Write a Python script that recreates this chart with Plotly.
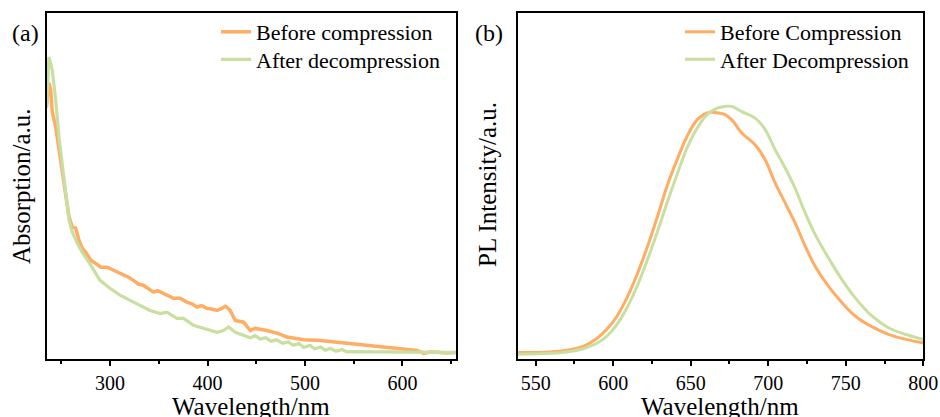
import plotly.graph_objects as go

# ---------------- Panel (a): absorption ----------------
abs_before_nm = [235, 237.3, 239.1, 240.7, 244.2, 247.6, 251.0, 254.5, 257.9, 261.3, 264.7, 268.1,
                 271.5, 275.0, 280.2, 285.3, 290.4, 296.9, 304.1, 309, 314.4, 319, 324.0, 329, 334.2,
                 339, 344.5, 349, 354.8, 360, 365.1, 371.9, 378.8, 384, 389.1, 394, 399.4, 404,
                 409.7, 414, 418.2, 421, 423.3, 428.5, 437.0, 443.9, 449.0, 461.0, 473.0, 481.6,
                 498.7, 515.8, 533.0, 550.0, 567.2, 584.4, 601.4, 615.2, 622.0, 628, 635.8, 645, 652.8, 655]
abs_before = [73.3, 79.7, 77.7, 71.3, 67.0, 60.3, 53.6, 46.7, 40.9, 38.0, 37.7, 34.2,
              31.9, 30.7, 28.4, 27.5, 26.4, 26.4, 25.5, 24.8, 24.1, 23.5, 22.6, 21.5, 21.2,
              20.4, 19.2, 19.6, 18.8, 17.9, 17.4, 17.4, 16.3, 15.8, 14.9, 15.3, 14.5, 14.3,
              13.9, 14.4, 15.1, 14.6, 13.9, 11.0, 10.5, 8.1, 8.7, 8.1, 7.2, 6.2,
              5.4, 5.2, 4.7, 4.3, 3.8, 3.3, 2.8, 2.3, 1.5, 1.9, 1.8, 1.6, 1.7, 1.7]

abs_after_nm = [235, 237.3, 240.7, 244.2, 247.6, 251.0, 254.5, 257.9, 261.3, 266.4, 271.5, 278.4,
                283.6, 289.7, 300.0, 310.3, 320.6, 330.8, 341.1, 351.4, 358.3, 368.6, 375.3,
                385.6, 395.9, 409.7, 416.4, 421.6, 428.5, 437.0, 440, 444, 449, 454, 460, 465,
                471, 477, 483, 488, 494, 499, 505, 510, 516, 521, 526, 532, 538, 543, 550, 570,
                600, 620, 640, 655]
abs_after = [72.5, 87.2, 83.5, 74.8, 64.1, 55.4, 47.8, 40.0, 36.5, 33.3, 30.7, 27.8,
             25.5, 22.6, 20.3, 18.3, 16.8, 15.4, 13.9, 13.0, 13.4, 11.6, 11.6,
             9.6, 8.7, 7.6, 8.1, 9.1, 7.6, 6.7, 6.6, 6.0, 6.6, 5.6, 6.0, 5.0,
             5.4, 4.4, 4.8, 3.8, 4.3, 3.2, 3.8, 2.8, 3.3, 2.4, 2.9, 2.1, 2.6, 1.9, 2.0, 2.0,
             1.9, 1.9, 1.8, 1.7]

# ---------------- Panel (b): PL ----------------
pl_before_nm = [538.4, 559.4, 570.2, 581.0, 589.5, 596.0, 602.5, 608.9, 615.4, 621.8, 628.3, 634.7,
                641.2, 647.6, 654.1, 660.5, 667.0, 672.1, 676.5, 682.9, 691.5, 698.0, 704.4,
                710.9, 717.3, 723.8, 730.2, 738.8, 747.4, 756.0, 766.8, 777.5, 788.3, 800]
pl_before = [1.7, 1.9, 2.4, 3.6, 5.8, 8.5, 12.3, 17.6, 24.3, 32.0, 40.7, 49.8,
             57.5, 64.2, 69.0, 71.0, 71.1, 70.5, 69.0, 65.2, 61.8, 57.5, 50.8,
             45.0, 39.2, 32.5, 26.7, 20.9, 16.2, 12.3, 9.2, 7.0, 5.6, 4.5]

pl_after_nm = [538.4, 559.4, 570.2, 581.0, 589.5, 596.0, 602.5, 608.9, 615.4, 621.8, 628.3, 634.7,
               641.2, 647.6, 654.1, 660.5, 667.0, 672.1, 676.5, 682.9, 691.5, 698.0, 704.4,
               710.9, 717.3, 723.8, 730.2, 738.8, 747.4, 756.0, 766.8, 777.5, 788.3, 800]
pl_after = [1.2, 1.5, 1.9, 2.9, 4.4, 6.5, 9.9, 14.7, 20.9, 28.2, 36.4, 45.0,
            53.2, 60.9, 66.6, 70.5, 72.4, 72.9, 72.9, 71.4, 69.5, 66.2, 60.4,
            55.1, 49.3, 42.1, 35.9, 29.1, 22.9, 17.6, 12.3, 8.9, 7.0, 5.5]

x_ticks_a = [300, 400, 500, 600]
x_ticks_b = [550, 600, 650, 700, 750, 800]

ORANGE = "#FFAC64"
GREEN = "#C8DFA0"
FONT = "Liberation Serif"
W, H = 940, 417


def px_x(p):
    return p / W


def px_y(p):
    return 1 - p / H


fig = go.Figure()
fig.add_trace(go.Scatter(x=abs_before_nm, y=abs_before, mode="lines", name="Before compression",
                         line=dict(color=ORANGE, width=3.5), xaxis="x", yaxis="y", legend="legend"))
fig.add_trace(go.Scatter(x=abs_after_nm, y=abs_after, mode="lines", name="After decompression",
                         line=dict(color=GREEN, width=3.2), xaxis="x", yaxis="y", legend="legend2"))
fig.add_trace(go.Scatter(x=pl_before_nm, y=pl_before, mode="lines", name="Before Compression",
                         line=dict(color=ORANGE, width=3, shape="spline"), xaxis="x2", yaxis="y2",
                         legend="legend3"))
fig.add_trace(go.Scatter(x=pl_after_nm, y=pl_after, mode="lines", name="After Decompression",
                         line=dict(color=GREEN, width=3, shape="spline"), xaxis="x2", yaxis="y2",
                         legend="legend4"))

ydom = [px_y(358.5), px_y(12.7)]
common_x = dict(showline=True, linecolor="black", linewidth=2, mirror=True, ticks="outside",
                ticklen=5, tickwidth=1.5, tickcolor="black", showgrid=False, zeroline=False,
                automargin=False, tickfont=dict(family=FONT, size=20, color="black"))
common_y = dict(showline=True, linecolor="black", linewidth=2, mirror=True, ticks="",
                showticklabels=False, showgrid=False, zeroline=False, automargin=False,
                range=[0, 100])


def leg(xp, yp):
    return dict(x=px_x(xp), y=px_y(yp), xanchor="left", yanchor="middle",
                font=dict(family=FONT, size=22, color="black"), bgcolor="rgba(0,0,0,0)",
                borderwidth=0, tracegroupgap=0)


fig.update_layout(
    width=W, height=H, margin=dict(l=0, r=0, t=0, b=0, autoexpand=False),
    paper_bgcolor="white", plot_bgcolor="white",
    xaxis=dict(domain=[px_x(46.7), px_x(456)], range=[235, 655], tickvals=x_ticks_a,
               minor=dict(dtick=50, tick0=250, ticks="outside", ticklen=3, tickcolor="black"),
               anchor="y", **common_x),
    yaxis=dict(domain=ydom, anchor="x", **common_y),
    xaxis2=dict(domain=[px_x(517.7), px_x(923.3)], range=[538.4, 800], tickvals=x_ticks_b,
                minor=dict(dtick=25, tick0=525, ticks="outside", ticklen=3, tickcolor="black"),
                anchor="y2", **common_x),
    yaxis2=dict(domain=ydom, anchor="x2", **common_y),
    legend=leg(216, 32),
    legend2=leg(216, 59.5),
    legend3=leg(680, 32),
    legend4=leg(680, 59.5),
    showlegend=True,
)

ann_font = dict(family=FONT, size=25, color="black")
fig.add_annotation(text="Wavelength/nm", x=px_x(251), y=px_y(406), xref="paper", yref="paper",
                   xanchor="center", yanchor="middle", showarrow=False, font=ann_font)
fig.add_annotation(text="Wavelength/nm", x=px_x(720), y=px_y(406), xref="paper", yref="paper",
                   xanchor="center", yanchor="middle", showarrow=False, font=ann_font)
fig.add_annotation(text="Absorption/a.u.", x=px_x(21), y=px_y(186), xref="paper", yref="paper",
                   xanchor="center", yanchor="middle", showarrow=False, textangle=-90, font=ann_font)
fig.add_annotation(text="PL Intensity/a.u.", x=px_x(487), y=px_y(185), xref="paper", yref="paper",
                   xanchor="center", yanchor="middle", showarrow=False, textangle=-90, font=ann_font)
fig.add_annotation(text="(a)", x=px_x(25), y=px_y(33), xref="paper", yref="paper",
                   xanchor="center", yanchor="middle", showarrow=False,
                   font=dict(family=FONT, size=24, color="black"))
fig.add_annotation(text="(b)", x=px_x(489), y=px_y(33), xref="paper", yref="paper",
                   xanchor="center", yanchor="middle", showarrow=False,
                   font=dict(family=FONT, size=24, color="black"))

fig.write_html("out.html", config={"displayModeBar": False},
               post_script="document.body.style.margin='0';document.body.style.overflow='hidden';")
